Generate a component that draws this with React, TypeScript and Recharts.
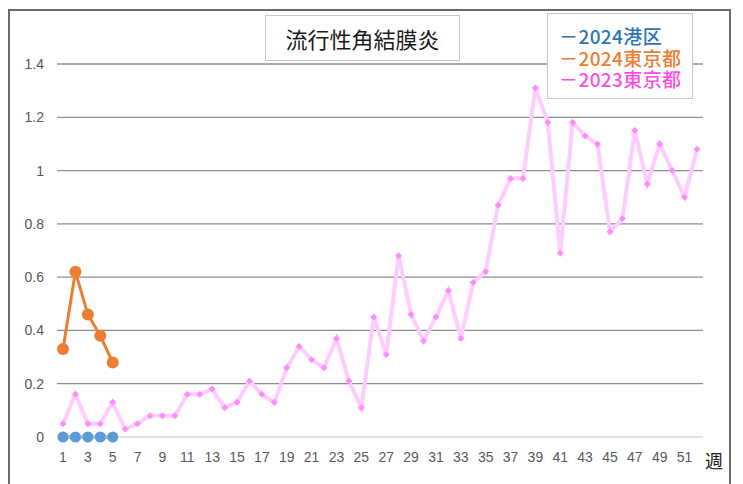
import React from 'react';
import { LineChart, Line, XAxis, YAxis, CartesianGrid } from 'recharts';

const weeks = [
  1, 2, 3, 4, 5, 6, 7, 8, 9, 10, 11, 12, 13, 14, 15, 16, 17, 18, 19, 20, 21, 22, 23, 24, 25, 26,
  27, 28, 29, 30, 31, 32, 33, 34, 35, 36, 37, 38, 39, 40, 41, 42, 43, 44, 45, 46, 47, 48, 49, 50, 51, 52,
];

const minato2024 = [0, 0, 0, 0, 0];
const tokyo2024 = [0.33, 0.62, 0.46, 0.38, 0.28];
const tokyo2023 = [
  0.05, 0.16, 0.05, 0.05, 0.13, 0.03, 0.05, 0.08, 0.08, 0.08, 0.16, 0.16, 0.18, 0.11, 0.13, 0.21, 0.16, 0.13,
  0.26, 0.34, 0.29, 0.26, 0.37, 0.21, 0.11, 0.45, 0.31, 0.68, 0.46, 0.36, 0.45, 0.55, 0.37, 0.58, 0.62, 0.87,
  0.97, 0.97, 1.31, 1.18, 0.69, 1.18, 1.13, 1.1, 0.77, 0.82, 1.15, 0.95, 1.1, 1.0, 0.9, 1.08,
];

const yTicks = [0, 0.2, 0.4, 0.6, 0.8, 1, 1.2, 1.4];
const gridValues = [0.2, 0.4, 0.6, 0.8, 1, 1.2, 1.4];

const title = '流行性角結膜炎';
const xUnit = '週';
const legendItems = [
  { label: '2024港区', color: '#2e75b6' },
  { label: '2024東京都', color: '#ed7d31' },
  { label: '2023東京都', color: '#ff4fe0' },
];

const data = weeks.map((w, i) => ({
  week: w,
  minato: i < minato2024.length ? minato2024[i] : null,
  tokyo24: i < tokyo2024.length ? tokyo2024[i] : null,
  tokyo23: tokyo2023[i],
}));

const cjk = '"Noto Sans CJK JP", "Noto Sans", sans-serif';

const Diamond = (props: any) => {
  const { cx, cy, index } = props;
  if (cx == null || cy == null) return <g key={`d-${index}`} />;
  const s = 3.5;
  return (
    <path
      key={`d-${index}`}
      d={`M${cx},${cy - s}L${cx + s},${cy}L${cx},${cy + s}L${cx - s},${cy}Z`}
      fill="#ff8cff"
    />
  );
};

export default function App() {
  return (
    <div style={{ position: 'absolute', left: 0, top: 0, width: 743, height: 484, overflow: 'hidden', background: '#fff' }}>
      <div
        style={{
          position: 'absolute',
          left: 8,
          top: 9,
          width: 723,
          height: 500,
          border: '2px solid #6a6a6a',
          boxSizing: 'border-box',
        }}
      />
      <div style={{ position: 'absolute', left: 0, top: 0 }}>
        <LineChart width={743} height={484} data={data} margin={{ top: 64, right: 40, left: 0, bottom: 17 }}>
          <CartesianGrid vertical={false} horizontalValues={gridValues} stroke="#8c8c8c" strokeWidth={1.3} />
          <XAxis
            dataKey="week"
            interval={1}
            tickLine={false}
            axisLine={{ stroke: '#d9d9d9', strokeWidth: 1.3 }}
            padding={{ left: 6, right: 6 }}
            height={30}
            tickMargin={9}
            tick={{ fill: '#595959', fontSize: 14, fontFamily: '"Liberation Sans", sans-serif' }}
          />
          <YAxis
            width={57}
            domain={[0, 1.4]}
            ticks={yTicks}
            tickLine={false}
            axisLine={false}
            tickMargin={7}
            tick={{ fill: '#595959', fontSize: 14, fontFamily: '"Liberation Sans", sans-serif' }}
          />
          <Line
            dataKey="tokyo23"
            stroke="#ffccff"
            strokeWidth={4}
            dot={Diamond}
            activeDot={false}
            isAnimationActive={false}
          />
          <Line
            dataKey="tokyo24"
            stroke="#ed7d31"
            strokeWidth={3}
            dot={{ r: 6, fill: '#ed7d31', stroke: '#ed7d31', strokeWidth: 0 }}
            activeDot={false}
            isAnimationActive={false}
          />
          <Line
            dataKey="minato"
            stroke="#5b9bd5"
            strokeWidth={3}
            dot={{ r: 5.5, fill: '#5b9bd5', stroke: '#5b9bd5', strokeWidth: 0 }}
            activeDot={false}
            isAnimationActive={false}
          />
        </LineChart>
      </div>
      <div
        style={{
          position: 'absolute',
          left: 265,
          top: 15,
          width: 195,
          height: 46,
          border: '1.5px solid #c8c8c8',
          boxSizing: 'border-box',
          display: 'flex',
          alignItems: 'center',
          justifyContent: 'center',
          fontFamily: cjk,
          fontSize: 22,
          color: '#1a1a1a',
        }}
      >
        {title}
      </div>
      <div
        style={{
          position: 'absolute',
          left: 547,
          top: 13,
          width: 146,
          height: 86,
          border: '1.5px solid #c8c8c8',
          boxSizing: 'border-box',
          background: '#fff',
        }}
      >
        {legendItems.map((it, i) => (
          <div
            key={it.label}
            style={{
              position: 'absolute',
              left: 11,
              top: 11 + i * 21.5,
              height: 21,
              lineHeight: '21px',
              fontFamily: cjk,
              fontSize: 19,
              fontWeight: 500,
              letterSpacing: 0.4,
              color: it.color,
              whiteSpace: 'nowrap',
            }}
          >
            {'－' + it.label}
          </div>
        ))}
      </div>
      <div
        style={{
          position: 'absolute',
          left: 705,
          top: 447,
          fontFamily: cjk,
          fontSize: 18,
          color: '#1a1a1a',
        }}
      >
        {xUnit}
      </div>
    </div>
  );
}
